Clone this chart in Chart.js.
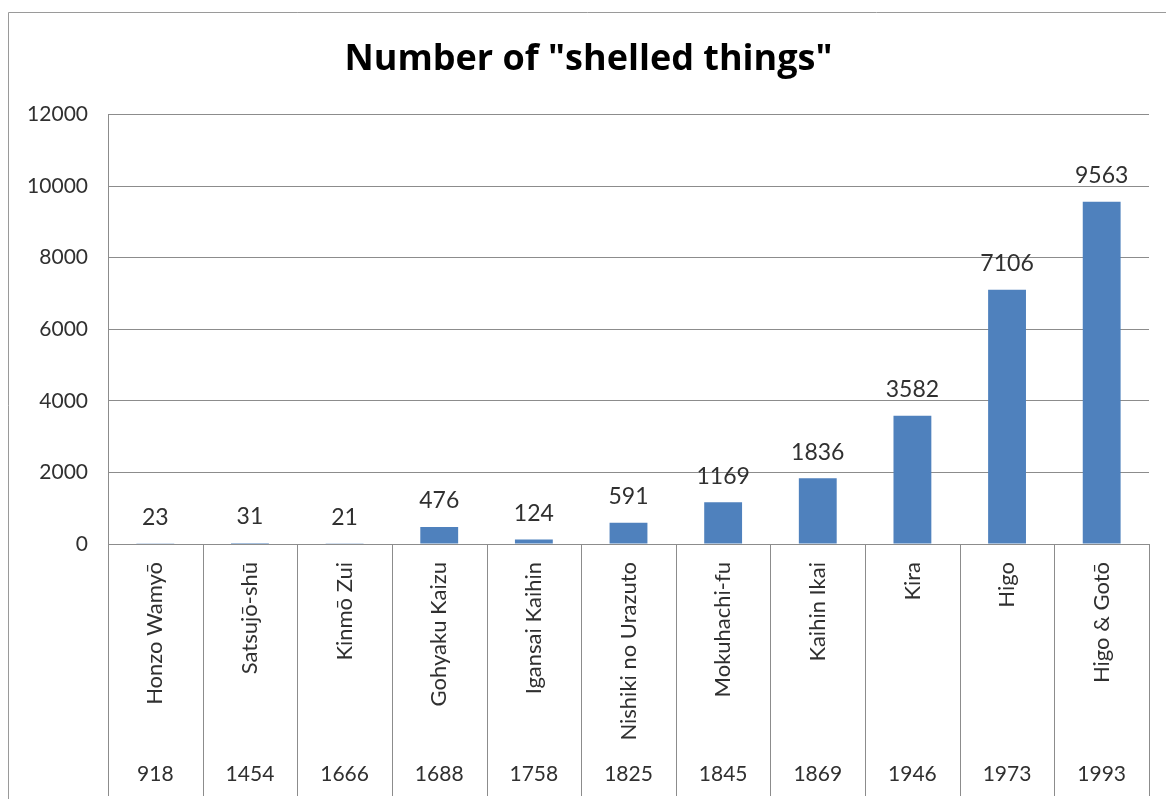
<!DOCTYPE html>
<html>
<head>
<meta charset="utf-8">
<style>
  html, body { margin: 0; padding: 0; background: #fff; }
  #wrap { width: 1166px; height: 799px; }
</style>
<script src="https://cdn.jsdelivr.net/npm/chart.js@4"></script>
</head>
<body>
<div id="wrap"><canvas id="myChart"></canvas></div>
<script>
const ctx = document.getElementById('myChart');

const names = ['Honzo Wamyō', 'Satsujō-shū', 'Kinmō Zui', 'Gohyaku Kaizu', 'Igansai Kaihin',
    'Nishiki no Urazuto', 'Mokuhachi-fu', 'Kaihin Ikai', 'Kira', 'Higo', 'Higo & Gotō'];
const years = ['918', '1454', '1666', '1688', '1758', '1825', '1845', '1869', '1946', '1973', '1993'];
const counts = [23, 31, 21, 476, 124, 591, 1169, 1836, 3582, 7106, 9563];

const FONT = 'Lato, "Open Sans", sans-serif';
const GRID = '#8c8c8c';
const TEXT = '#303030';

// value labels above the bars
const barLabels = {
    id: 'barLabels',
    afterDatasetsDraw(chart) {
        const c = chart.ctx;
        const meta = chart.getDatasetMeta(0);
        c.save();
        c.font = '23px ' + FONT;
        c.fillStyle = TEXT;
        c.textAlign = 'center';
        c.textBaseline = 'middle';
        meta.data.forEach((bar, i) => {
            c.fillText(counts[i], bar.x, bar.y - 26);
        });
        c.restore();
    }
};

// category separators through the label rows + chart border
const separators = {
    id: 'separators',
    afterDraw(chart) {
        const c = chart.ctx;
        const x = chart.scales.x;
        const area = chart.chartArea;
        const half = (x.getPixelForValue(1) - x.getPixelForValue(0)) / 2;
        c.save();
        c.strokeStyle = GRID;
        c.lineWidth = 1;
        c.beginPath();
        for (let i = 0; i <= names.length; i++) {
            const px = Math.round(x.getPixelForValue(0) - half + i * half * 2) + 0.5;
            c.moveTo(px, area.bottom);
            c.lineTo(px, 796);
        }
        c.stroke();
        // outer chart frame (left and top edges visible)
        c.strokeStyle = '#9a9a9a';
        c.beginPath();
        c.moveTo(8.5, 799);
        c.lineTo(8.5, 12.5);
        c.lineTo(1166, 12.5);
        c.stroke();
        c.restore();
    }
};

new Chart(ctx, {
    type: 'bar',
    data: {
        labels: names,
        datasets: [{
            data: counts,
            backgroundColor: '#4f81bd',
            categoryPercentage: 1,
            barPercentage: 0.4
        }]
    },
    options: {
        responsive: true,
        maintainAspectRatio: false,
        animation: false,
        layout: {
            autoPadding: false,
            padding: { left: 28, right: 17, top: 12, bottom: 4 }
        },
        plugins: {
            legend: { display: false },
            tooltip: { enabled: false },
            title: {
                display: true,
                text: 'Number of "shelled things"',
                color: '#000',
                font: { family: '"Open Sans", Lato, sans-serif', size: 36, weight: 'bold', lineHeight: 1.1 },
                padding: { top: 28, bottom: 35 }
            }
        },
        scales: {
            x: {
                position: 'bottom',
                grid: { display: false },
                border: { color: GRID },
                ticks: {
                    color: TEXT,
                    font: { family: FONT, size: 22 },
                    minRotation: 90,
                    maxRotation: 90,
                    autoSkip: false,
                    padding: 10
                },
                afterFit(scale) { scale.height = 200; }
            },
            x2: {
                type: 'category',
                position: 'bottom',
                labels: years,
                offset: true,
                grid: { display: false, drawTicks: false },
                border: { display: false },
                ticks: {
                    color: TEXT,
                    font: { family: FONT, size: 21 },
                    maxRotation: 0,
                    autoSkip: false,
                    padding: 18
                },
                afterFit(scale) { scale.height = 51; }
            },
            y: {
                min: 0,
                max: 12000,
                ticks: {
                    stepSize: 2000,
                    color: TEXT,
                    font: { family: FONT, size: 21 },
                    padding: 20,
                    callback: (v) => String(v)
                },
                grid: { color: GRID, drawTicks: false },
                border: { color: GRID },
                afterFit(scale) { scale.width = 80; }
            }
        }
    },
    plugins: [barLabels, separators]
});
</script>
</body>
</html>
